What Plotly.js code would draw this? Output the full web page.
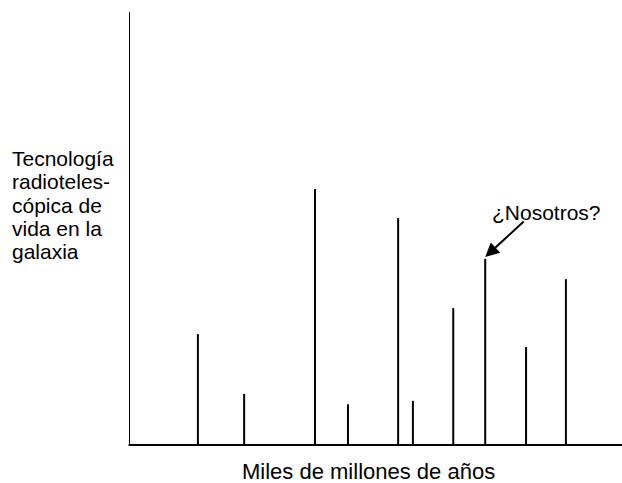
<!DOCTYPE html>
<html><head><meta charset="utf-8">
<script src="https://cdn.plot.ly/plotly-3.0.1.min.js"></script>
<style>html,body{margin:0;padding:0;background:#fff;overflow:hidden}</style>
</head><body><div id="chart" style="width:622px;height:483px"></div>
<script>
// Positions along the time axis (arbitrary units 0-100) and heights (0-100)
const epochs = [13.8, 23.2, 37.6, 44.3, 54.5, 57.5, 65.7, 72.2, 80.5, 88.6];
const levels = [25.6, 11.8, 59.1, 9.4, 52.4, 10.2, 31.6, 43.0, 22.6, 38.3];
const yTitleLines = ["Tecnología", "radioteles-", "cópica de", "vida en la", "galaxia"];
const xTitle = "Miles de millones de años";
const markerLabel = "¿Nosotros?";
const markerIndex = 7;

const xs = [], ys = [];
epochs.forEach((e, i) => { xs.push(e, e, null); ys.push(0, levels[i], null); });

const font = {family: "Liberation Sans, Arial, Helvetica, sans-serif", size: 21, color: "#000"};
const plotLeft = 130, plotW = 492;
const plotTop = 12, plotBottom = 445, plotH = plotBottom - plotTop;
const py = p => (plotBottom - p) / plotH;
const px = p => (p - plotLeft) / plotW;

const annotations = [];
const lineY = [158, 181.5, 205, 228.5, 252];
yTitleLines.forEach((t, i) => annotations.push({
  text: t, xref: "paper", yref: "paper", x: px(10), y: py(lineY[i]),
  xanchor: "left", yanchor: "middle", showarrow: false, font: font, align: "left"
}));
annotations.push({
  text: xTitle, xref: "paper", yref: "paper", x: px(368), y: py(472),
  xanchor: "center", yanchor: "middle", showarrow: false,
  font: Object.assign({}, font, {size: 22})
});
annotations.push({
  text: markerLabel, xref: "paper", yref: "paper", x: px(546), y: py(212),
  xanchor: "center", yanchor: "middle", showarrow: false, font: font
});
annotations.push({
  text: "", x: epochs[markerIndex], y: levels[markerIndex] + 0.4, xref: "x", yref: "y",
  showarrow: true, ax: 40, ay: -37, arrowhead: 2, arrowsize: 1.4, arrowwidth: 2,
  arrowcolor: "#000", standoff: 0, startstandoff: 0
});

Plotly.newPlot("chart", [{
  x: xs, y: ys, type: "scatter", mode: "lines",
  line: {color: "#000", width: 2}, hoverinfo: "skip", showlegend: false
}], {
  width: 622, height: 483,
  margin: {l: plotLeft, r: 622 - plotLeft - plotW, t: plotTop, b: 483 - plotBottom},
  paper_bgcolor: "#fff", plot_bgcolor: "#fff",
  xaxis: {range: [0, 100], showline: false,
          showgrid: false, zeroline: false, showticklabels: false, ticks: ""},
  yaxis: {range: [0, 100], showline: true, linecolor: "#000", linewidth: 1.5,
          showgrid: false, zeroline: false, showticklabels: false, ticks: ""},
  shapes: [{type: "line", xref: "paper", yref: "paper", x0: -0.003, x1: 1.1, y0: 0, y1: 0,
            line: {color: "#000", width: 2}, layer: "above"}],
  annotations: annotations,
  font: font
}, {staticPlot: true});
</script></body></html>
